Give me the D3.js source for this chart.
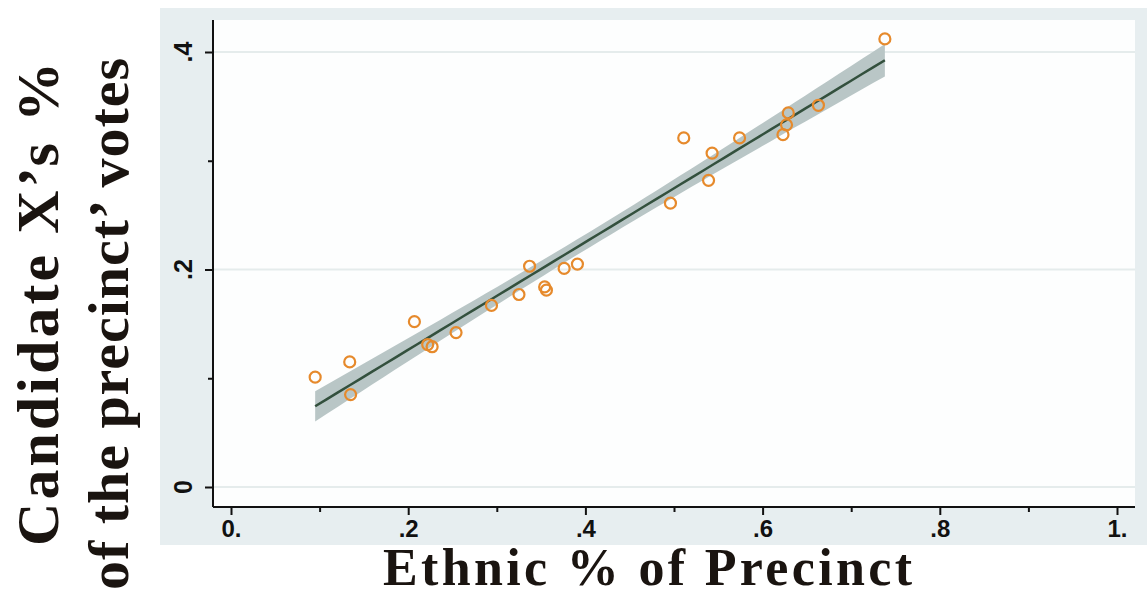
<!DOCTYPE html>
<html>
<head>
<meta charset="utf-8">
<script src="https://cdn.jsdelivr.net/npm/d3@7"></script>
<style>
  body { margin: 0; background: #fff; }
  svg { display: block; }
</style>
</head>
<body>
<div id="chart"></div>
<script>
// ethnic share of precinct (x) and candidate X's vote share (y)
const ethnicShare = [0.095, 0.134, 0.135, 0.207, 0.222, 0.227, 0.254, 0.294, 0.325, 0.337,
  0.354, 0.356, 0.376, 0.391, 0.496, 0.511, 0.539, 0.543, 0.574, 0.623, 0.627, 0.629, 0.663, 0.738];
const voteShare = [0.101, 0.115, 0.085, 0.152, 0.131, 0.129, 0.142, 0.167, 0.177, 0.203,
  0.184, 0.181, 0.201, 0.205, 0.261, 0.321, 0.282, 0.307, 0.321, 0.324, 0.333, 0.344, 0.351, 0.412];

const xMajor = [0, 0.2, 0.4, 0.6, 0.8, 1];
const xMinor = [0.1, 0.3, 0.5, 0.7, 0.9];
const xTickLabels = ["0.", ".2", ".4", ".6", ".8", "1."];
const yMajor = [0, 0.2, 0.4];
const yMinor = [0.1, 0.3];
const yTickLabels = ["0", ".2", ".4"];

const W = 1147, H = 595;
const svg = d3.select("#chart").append("svg").attr("width", W).attr("height", H);

const x = d3.scaleLinear().domain([0, 1]).range([231, 1117]);
const y = d3.scaleLinear().domain([0, 0.4]).range([487, 52]);

// outer (graph region) and inner plot region
svg.append("rect").attr("x", 160).attr("y", 8).attr("width", W - 160).attr("height", 537).attr("fill", "#e7eef0");
svg.append("rect").attr("x", 214).attr("y", 20).attr("width", 921).attr("height", 487).attr("fill", "#fdfefe");

// grid
svg.append("g").selectAll("line").data(yMajor).join("line")
  .attr("x1", 214).attr("x2", 1135)
  .attr("y1", d => y(d)).attr("y2", d => y(d))
  .attr("stroke", "#e5ecec").attr("stroke-width", 2);

// linear fit with 95% CI
const data = ethnicShare.map((v, i) => ({ x: v, y: voteShare[i] }));
const n = data.length;
const mx = d3.mean(data, d => d.x), my = d3.mean(data, d => d.y);
const sxx = d3.sum(data, d => (d.x - mx) ** 2);
const b = d3.sum(data, d => (d.x - mx) * (d.y - my)) / sxx;
const a = my - b * mx;
const s = Math.sqrt(d3.sum(data, d => (d.y - a - b * d.x) ** 2) / (n - 2));
const tq = 2.074; // t(0.975, 22)
const [xlo, xhi] = d3.extent(ethnicShare);
const fitPts = d3.range(0, 51).map(i => {
  const xv = xlo + (xhi - xlo) * i / 50;
  const se = s * Math.sqrt(1 / n + (xv - mx) ** 2 / sxx);
  const yv = a + b * xv;
  return { x: xv, y: yv, lo: yv - tq * se, hi: yv + tq * se };
});

svg.append("path").datum(fitPts)
  .attr("d", d3.area().x(d => x(d.x)).y0(d => y(d.lo)).y1(d => y(d.hi)))
  .attr("fill", "#b9c6c6");
svg.append("path").datum(fitPts)
  .attr("d", d3.line().x(d => x(d.x)).y(d => y(d.y)))
  .attr("fill", "none").attr("stroke", "#33503d").attr("stroke-width", 2.5);

// points
svg.append("g").selectAll("circle").data(data).join("circle")
  .attr("cx", d => x(d.x)).attr("cy", d => y(d.y)).attr("r", 5.5)
  .attr("fill", "none").attr("stroke", "#e68a2c").attr("stroke-width", 2.2);

// x axis
const tickFont = "Liberation Sans, Arial, sans-serif";
const xAxisG = svg.append("g").attr("transform", "translate(0,507)");
xAxisG.call(d3.axisBottom(x).tickValues(xMajor).tickSize(8).tickPadding(5)
  .tickFormat((d, i) => xTickLabels[i]));
const xMinorG = xAxisG.append("g").call(d3.axisBottom(x).tickValues(xMinor).tickSize(5).tickFormat(""));
xMinorG.selectAll("text").remove();
xAxisG.selectAll(".domain").remove();
xAxisG.append("line").attr("x1", 213).attr("x2", 1135).attr("stroke", "#111").attr("stroke-width", 2);
xAxisG.selectAll(".tick line").attr("stroke", "#111").attr("stroke-width", 2);
xAxisG.selectAll(".tick text").attr("fill", "#111")
  .attr("font-family", tickFont).attr("font-weight", "bold").attr("font-size", 24);

// y axis
const yAxisG = svg.append("g").attr("transform", "translate(213,0)");
yAxisG.call(d3.axisLeft(y).tickValues(yMajor).tickSize(8).tickFormat(""));
yAxisG.append("g").call(d3.axisLeft(y).tickValues(yMinor).tickSize(5).tickFormat(""));
yAxisG.selectAll("text").remove();
yAxisG.selectAll(".domain").remove();
yAxisG.append("line").attr("y1", 20).attr("y2", 507).attr("stroke", "#111").attr("stroke-width", 2);
yAxisG.selectAll(".tick line").attr("stroke", "#111").attr("stroke-width", 2);

svg.append("g").selectAll("text").data(yMajor).join("text")
  .attr("transform", d => `translate(192,${y(d)}) rotate(-90)`)
  .attr("text-anchor", "middle")
  .attr("fill", "#111")
  .attr("font-family", tickFont).attr("font-weight", "bold").attr("font-size", 25)
  .text((d, i) => yTickLabels[i]);

// titles
const serif = "Liberation Serif, Times New Roman, serif";
svg.append("text")
  .attr("x", 383).attr("y", 585)
  .attr("textLength", 529).attr("lengthAdjust", "spacing")
  .attr("font-family", serif).attr("font-weight", "bold").attr("font-size", 52)
  .attr("fill", "#1a1410")
  .text("Ethnic % of Precinct");

svg.append("text")
  .attr("transform", "translate(58,546) rotate(-90)")
  .attr("textLength", 484).attr("lengthAdjust", "spacing")
  .attr("font-family", serif).attr("font-weight", "bold").attr("font-size", 60)
  .attr("fill", "#1a1410")
  .text("Candidate X\u2019s %");

svg.append("text")
  .attr("transform", "translate(128,590) rotate(-90)")
  .attr("textLength", 532).attr("lengthAdjust", "spacing")
  .attr("font-family", serif).attr("font-weight", "bold").attr("font-size", 58)
  .attr("fill", "#1a1410")
  .text("of the precinct\u2019 votes");
</script>
</body>
</html>
